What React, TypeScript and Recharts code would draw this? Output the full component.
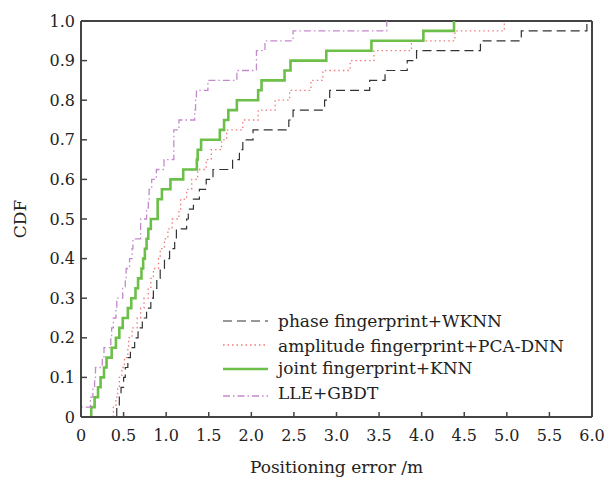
import { Line, LineChart, ReferenceLine, XAxis, YAxis } from 'recharts'

// cumulative probability reached at each sorted error (40 test points)
const cdfLevels = [
  0.025, 0.05, 0.075, 0.1, 0.125, 0.15, 0.175, 0.2, 0.225, 0.25,
  0.275, 0.3, 0.325, 0.35, 0.375, 0.4, 0.425, 0.45, 0.475, 0.5,
  0.525, 0.55, 0.575, 0.6, 0.625, 0.65, 0.675, 0.7, 0.725, 0.75,
  0.775, 0.8, 0.825, 0.85, 0.875, 0.9, 0.925, 0.95, 0.975, 1.0,
]

// sorted positioning errors (m)
const phaseWknn = [
  0.42, 0.45, 0.47, 0.5, 0.52, 0.55, 0.58, 0.63, 0.67, 0.72,
  0.77, 0.82, 0.85, 0.89, 0.93, 0.98, 1.04, 1.1, 1.12, 1.24,
  1.26, 1.32, 1.39, 1.47, 1.55, 1.78, 1.86, 1.9, 2.02, 2.44,
  2.49, 2.86, 2.92, 3.39, 3.57, 3.83, 3.94, 4.69, 5.17, 5.94,
]
const amplitudePcaDnn = [
  0.38, 0.41, 0.43, 0.45, 0.48, 0.51, 0.55, 0.56, 0.6, 0.66,
  0.7, 0.74, 0.79, 0.82, 0.85, 0.91, 0.93, 0.98, 1.02, 1.07,
  1.15, 1.17, 1.24, 1.3, 1.37, 1.47, 1.53, 1.65, 1.71, 1.9,
  2.08, 2.28, 2.45, 2.7, 2.84, 3.16, 3.44, 3.88, 4.39, 4.97,
]
const jointKnn = [
  0.12, 0.16, 0.2, 0.23, 0.27, 0.3, 0.36, 0.41, 0.45, 0.49,
  0.55, 0.59, 0.64, 0.67, 0.71, 0.73, 0.75, 0.77, 0.79, 0.82,
  0.9, 0.9, 0.95, 1.05, 1.2, 1.36, 1.37, 1.41, 1.63, 1.68,
  1.73, 1.83, 2.08, 2.12, 2.39, 2.46, 2.88, 3.41, 4.02, 4.38,
]
const lleGbdt = [
  0.0, 0.11, 0.14, 0.16, 0.17, 0.25, 0.27, 0.35, 0.36, 0.38,
  0.41, 0.42, 0.49, 0.52, 0.53, 0.57, 0.6, 0.61, 0.7, 0.7,
  0.77, 0.79, 0.8, 0.83, 0.885, 0.975, 1.09, 1.09, 1.09, 1.15,
  1.335, 1.345, 1.355, 1.49, 1.83, 2.06, 2.06, 2.16, 2.49, 3.59,
]

const xTicks = [0, 0.5, 1, 1.5, 2, 2.5, 3, 3.5, 4, 4.5, 5, 5.5, 6]
const yTicks = [0, 0.1, 0.2, 0.3, 0.4, 0.5, 0.6, 0.7, 0.8, 0.9, 1]

const FONT = '"DejaVu Serif", serif'
const AXIS = '#444444'

const series = [
  { name: 'phase fingerprint+WKNN', errors: phaseWknn, color: '#333333', width: 1.2, dash: '9 5' },
  { name: 'amplitude fingerprint+PCA-DNN', errors: amplitudePcaDnn, color: '#f07a7a', width: 1.3, dash: '1.5 3' },
  { name: 'joint fingerprint+KNN', errors: jointKnn, color: '#6cbf48', width: 2.6, dash: undefined },
  { name: 'LLE+GBDT', errors: lleGbdt, color: '#c48acb', width: 1.3, dash: '7 3 1.5 3' },
]

function toSteps(errors: number[]) {
  return [{ x: errors[0], y: 0 }, ...errors.map((e, i) => ({ x: e, y: cdfLevels[i] }))]
}

const fmt = (v: number) => (v === 0 ? '0' : v.toFixed(1))

// legend sample line y and text baseline, page pixels
const legendLineY = [321, 345, 369, 396]
const legendTextY = [327, 352, 374, 399]

function LegendBox() {
  return (
    <svg width={395} height={110} style={{ position: 'absolute', left: 210, top: 300 }}>
      {series.map((s, i) => (
        <g key={s.name}>
          <line
            x1={13}
            x2={58}
            y1={legendLineY[i] - 300}
            y2={legendLineY[i] - 300}
            stroke={s.color}
            strokeWidth={s.width}
            strokeDasharray={s.dash}
          />
          <text x={68} y={legendTextY[i] - 300} fontSize={17} fontFamily={FONT} fill="#222">
            {s.name}
          </text>
        </g>
      ))}
    </svg>
  )
}

export default function App() {
  return (
    <div style={{ position: 'absolute', left: 0, top: 0, width: 609, height: 477, background: '#fff' }}>
      <LineChart width={609} height={477} margin={{ top: 21, right: 17, left: 0, bottom: 0 }}>
        <XAxis
          dataKey="x"
          type="number"
          domain={[0, 6]}
          ticks={xTicks}
          interval={0}
          tickFormatter={fmt}
          height={60}
          allowDataOverflow
          stroke={AXIS}
          axisLine={{ stroke: AXIS, strokeWidth: 2 }}
          tickLine={{ stroke: AXIS, strokeWidth: 1.5 }}
          tickSize={-5}
          tickMargin={18}
          tick={{ fill: '#222', fontSize: 16, fontFamily: FONT }}
          label={{ value: 'Positioning error /m', position: 'insideBottom', offset: 4, fill: '#222', fontSize: 17, fontFamily: FONT }}
        />
        <YAxis
          type="number"
          domain={[0, 1]}
          ticks={yTicks}
          interval={0}
          tickFormatter={fmt}
          width={81}
          allowDataOverflow
          stroke={AXIS}
          axisLine={{ stroke: AXIS, strokeWidth: 2 }}
          tickLine={{ stroke: AXIS, strokeWidth: 1.5 }}
          tickSize={-6}
          tickMargin={12}
          tick={{ fill: '#222', fontSize: 16, fontFamily: FONT }}
          label={{ value: 'CDF', angle: -90, position: 'center', dx: -21, fill: '#222', fontSize: 17, fontFamily: FONT }}
        />
        <ReferenceLine y={1} stroke={AXIS} strokeWidth={2} />
        <ReferenceLine x={6} stroke={AXIS} strokeWidth={2} />
        {series.map((s) => (
          <Line
            key={s.name}
            data={toSteps(s.errors)}
            dataKey="y"
            name={s.name}
            type="stepAfter"
            stroke={s.color}
            strokeWidth={s.width}
            strokeDasharray={s.dash}
            dot={false}
            activeDot={false}
            isAnimationActive={false}
          />
        ))}
      </LineChart>
      <LegendBox />
    </div>
  )
}
